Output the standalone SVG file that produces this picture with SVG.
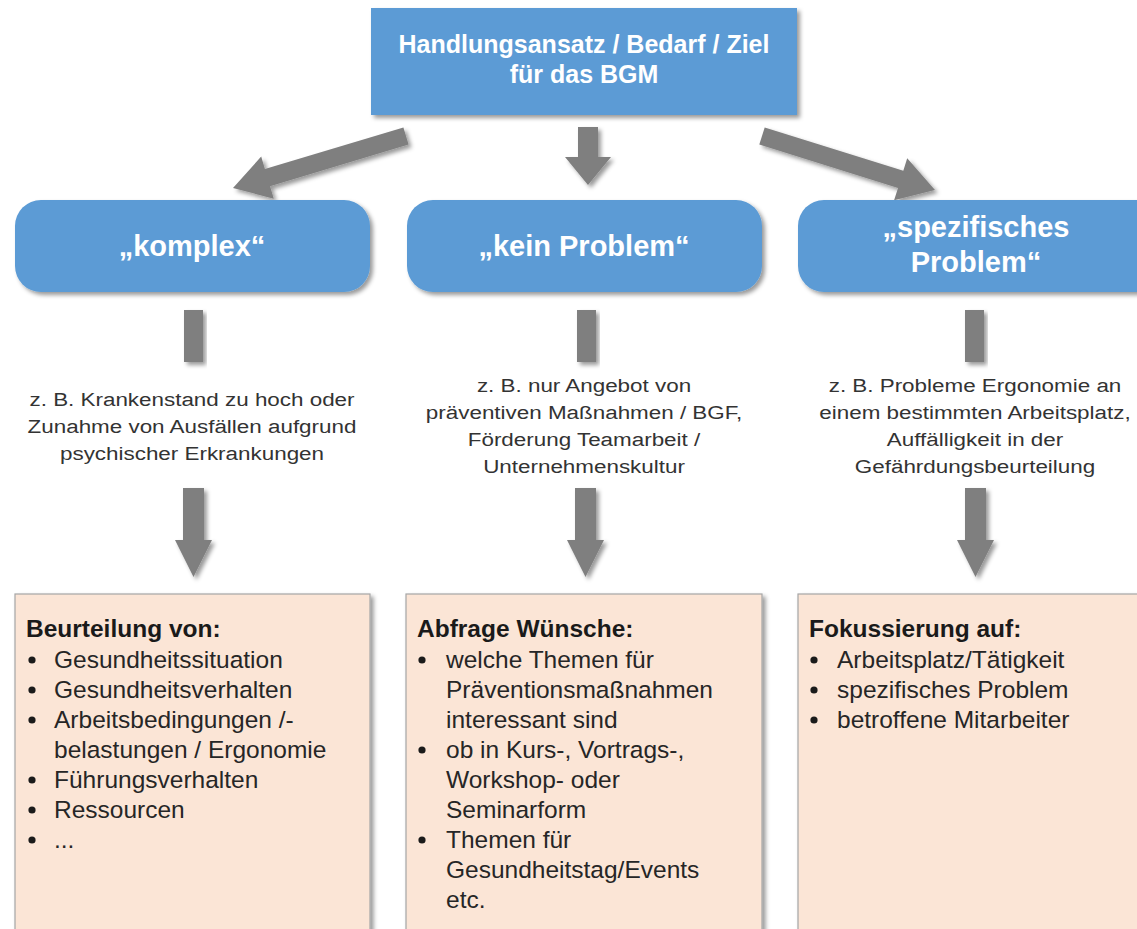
<svg xmlns="http://www.w3.org/2000/svg" width="1137" height="929" viewBox="0 0 1137 929">
  <defs>
    <filter id="sh" x="-10%" y="-10%" width="130%" height="130%">
      <feDropShadow dx="3" dy="3" stdDeviation="2" flood-color="#000" flood-opacity="0.4"/>
    </filter>
    <style>
      .blue { fill: #5B9BD5; filter: url(#sh); }
      .peach { fill: #FBE5D6; stroke: #A6A6A6; stroke-width: 1.2; filter: url(#sh); }
      .arrow { fill: #7F7F7F; filter: url(#sh); }
      .title { font-family: "Liberation Sans", Arial, sans-serif; font-weight: bold; fill: #FFFFFF; text-anchor: middle; }
      .desc { font-family: "Liberation Sans", Arial, sans-serif; font-size: 19px; fill: #333333; text-anchor: middle; }
      .head { font-family: "Liberation Sans", Arial, sans-serif; font-size: 24.5px; font-weight: bold; fill: #1A1A1A; }
      .item { font-family: "Liberation Sans", Arial, sans-serif; font-size: 24.5px; fill: #262626; }
      .dot { fill: #1A1A1A; }
    </style>
  </defs>

  <rect width="1137" height="929" fill="#FFFFFF"/>

  <g id="connectors">
    <path class="arrow" d="M403.4,127.4 L264.9,169.0 L261.2,156.6 L233,188 L273.8,198.7 L270.1,186.3 L408.6,144.6 Z"/>
    <path class="arrow" d="M578,127 H598 V157 H611 L588,185 L565,157 H578 Z"/>
    <path class="arrow" d="M764.7,127.4 L903.3,170.7 L907.2,158.3 L935,190 L894.1,200.3 L898.0,187.9 L759.3,144.6 Z"/>
    <rect class="arrow" x="184" y="310" width="19" height="52"/>
    <rect class="arrow" x="577" y="310" width="19" height="52"/>
    <rect class="arrow" x="965" y="310" width="19" height="52"/>
    <path class="arrow" d="M183,488 H204 V540 H212 L193.5,577 L175,540 H183 Z"/>
    <path class="arrow" d="M575,488 H596 V540 H604 L585.5,577 L567,540 H575 Z"/>
    <path class="arrow" d="M965,488 H986 V540 H994 L975.5,577 L957,540 H965 Z"/>
  </g>

  <g id="node-top">
    <rect class="blue" x="371" y="8" width="426" height="107"/>
    <text class="title" font-size="25" x="584" y="53">Handlungsansatz / Bedarf / Ziel</text>
    <text class="title" font-size="25" x="584" y="83">für das BGM</text>
  </g>

  <g id="node-komplex">
    <rect class="blue" x="15" y="200" width="355" height="92" rx="26" ry="26"/>
    <text class="title" font-size="29" x="192" y="256">„komplex“</text>
  </g>

  <g id="node-kein-problem">
    <rect class="blue" x="407" y="200" width="355" height="92" rx="26" ry="26"/>
    <text class="title" font-size="29" x="584" y="256">„kein Problem“</text>
  </g>

  <g id="node-spezifisch">
    <rect class="blue" x="798" y="200" width="370" height="92" rx="26" ry="26"/>
    <text class="title" font-size="29" x="976" y="237">„spezifisches</text>
    <text class="title" font-size="29" x="976" y="272">Problem“</text>
  </g>

  <g id="desc-komplex" transform="translate(192,0) scale(1.18,1)">
    <text class="desc" x="0" y="406">z. B. Krankenstand zu hoch oder</text>
    <text class="desc" x="0" y="433">Zunahme von Ausfällen aufgrund</text>
    <text class="desc" x="0" y="460">psychischer Erkrankungen</text>
  </g>

  <g id="desc-kein-problem" transform="translate(584,0) scale(1.18,1)">
    <text class="desc" x="0" y="392">z. B. nur Angebot von</text>
    <text class="desc" x="0" y="419">präventiven Maßnahmen / BGF,</text>
    <text class="desc" x="0" y="446">Förderung Teamarbeit /</text>
    <text class="desc" x="0" y="473">Unternehmenskultur</text>
  </g>

  <g id="desc-spezifisch" transform="translate(975,0) scale(1.18,1)">
    <text class="desc" x="0" y="392">z. B. Probleme Ergonomie an</text>
    <text class="desc" x="0" y="419">einem bestimmten Arbeitsplatz,</text>
    <text class="desc" x="0" y="446">Auffälligkeit in der</text>
    <text class="desc" x="0" y="473">Gefährdungsbeurteilung</text>
  </g>

  <g id="box-beurteilung">
    <rect class="peach" x="15" y="594" width="355" height="350"/>
    <text class="head" x="26" y="637">Beurteilung von:</text>
    <circle class="dot" cx="32" cy="660" r="3.6"/>
    <text class="item" x="54" y="668">Gesundheitssituation</text>
    <circle class="dot" cx="32" cy="690" r="3.6"/>
    <text class="item" x="54" y="698">Gesundheitsverhalten</text>
    <circle class="dot" cx="32" cy="720" r="3.6"/>
    <text class="item" x="54" y="728">Arbeitsbedingungen /-</text>
    <text class="item" x="54" y="758">belastungen / Ergonomie</text>
    <circle class="dot" cx="32" cy="780" r="3.6"/>
    <text class="item" x="54" y="788">Führungsverhalten</text>
    <circle class="dot" cx="32" cy="810" r="3.6"/>
    <text class="item" x="54" y="818">Ressourcen</text>
    <circle class="dot" cx="32" cy="840" r="3.6"/>
    <text class="item" x="54" y="848">...</text>
  </g>

  <g id="box-abfrage">
    <rect class="peach" x="406" y="594" width="356" height="350"/>
    <text class="head" x="417" y="637">Abfrage Wünsche:</text>
    <circle class="dot" cx="422" cy="660" r="3.6"/>
    <text class="item" x="446" y="668">welche Themen für</text>
    <text class="item" x="446" y="698">Präventionsmaßnahmen</text>
    <text class="item" x="446" y="728">interessant sind</text>
    <circle class="dot" cx="422" cy="750" r="3.6"/>
    <text class="item" x="446" y="758">ob in Kurs-, Vortrags-,</text>
    <text class="item" x="446" y="788">Workshop- oder</text>
    <text class="item" x="446" y="818">Seminarform</text>
    <circle class="dot" cx="422" cy="840" r="3.6"/>
    <text class="item" x="446" y="848">Themen für</text>
    <text class="item" x="446" y="878">Gesundheitstag/Events</text>
    <text class="item" x="446" y="908">etc.</text>
  </g>

  <g id="box-fokussierung">
    <rect class="peach" x="798" y="594" width="360" height="350"/>
    <text class="head" x="809" y="637">Fokussierung auf:</text>
    <circle class="dot" cx="814" cy="660" r="3.6"/>
    <text class="item" x="837" y="668">Arbeitsplatz/Tätigkeit</text>
    <circle class="dot" cx="814" cy="690" r="3.6"/>
    <text class="item" x="837" y="698">spezifisches Problem</text>
    <circle class="dot" cx="814" cy="720" r="3.6"/>
    <text class="item" x="837" y="728">betroffene Mitarbeiter</text>
  </g>
</svg>
